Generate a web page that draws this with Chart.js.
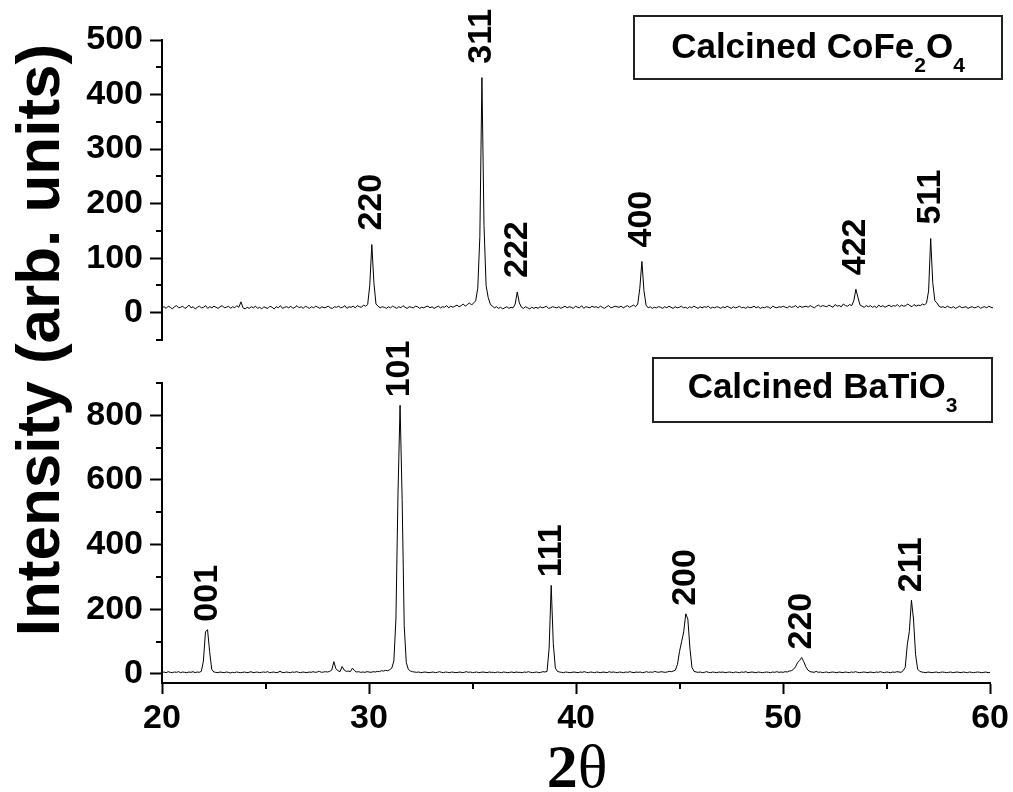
<!DOCTYPE html>
<html>
<head>
<meta charset="utf-8">
<title>XRD - calcined CoFe2O4 and BaTiO3</title>
<script src="https://cdn.jsdelivr.net/npm/chart.js@4.4.0/dist/chart.umd.min.js"></script>
<style>
  body { margin: 0; background: #fff; }
  #wrap { position: relative; width: 1013px; height: 792px; overflow: hidden; font-family: "Liberation Sans", Arial, sans-serif; color: #000; }
  canvas { position: absolute; left: 0; }
  #cfo { top: 0; }
  #bto { top: 320px; }
  .tag { position: absolute; box-sizing: border-box; border: 2px solid #222; font-size: 35px; font-weight: bold; text-align: center; line-height: 50px; white-space: nowrap; }
  .tag .sb { font-size: 21px; line-height: 1; vertical-align: -14px; }
  #tagCfo { left: 633px; top: 15px; width: 370px; height: 65px; padding-top: 4px; }
  #tagBto { left: 652px; top: 357px; width: 341px; height: 66px; padding-top: 2px; }
  #ytitle { position: absolute; left: -312px; top: 309px; width: 700px; height: 62px; line-height: 62px; font-size: 62px; font-weight: bold; text-align: center; transform: rotate(-90deg); white-space: nowrap; }
  #xtitle { position: absolute; left: 277px; top: 735px; width: 600px; height: 62px; line-height: 62px; font-size: 62px; text-align: center; font-family: "Liberation Serif", "Times New Roman", serif; }
</style>
</head>
<body>
<div id="wrap">
  <canvas id="cfo" width="1013" height="380"></canvas>
  <canvas id="bto" width="1013" height="472"></canvas>
  <div class="tag" id="tagCfo">Calcined CoFe<span class="sb">2</span>O<span class="sb">4</span></div>
  <div class="tag" id="tagBto">Calcined BaTiO<span class="sb">3</span></div>
  <div id="ytitle">Intensity (arb. units)</div>
  <div id="xtitle"><b>2</b>θ</div>
</div>
<script>
// scan: 20 - 60 deg, 0.1 deg step
const scanStart = 20;
const scanStep = 0.1;

// CoFe2O4 counts, one row per degree
const cfoCounts = [
  9,11,8,12,10,7,11,13,9,10,
  12,8,10,14,9,11,7,10,12,9,
  10,13,8,11,9,12,10,8,11,13,
  9,10,12,8,11,9,13,10,20,9,
  7,10,8,11,9,12,8,10,7,11,
  9,8,12,10,7,11,9,13,8,10,
  11,9,12,8,10,13,9,11,8,12,
  10,8,11,9,12,10,8,11,9,10,
  12,9,8,11,10,12,9,10,13,8,
  11,10,12,9,13,11,10,14,12,15,
  50,125,55,16,12,9,11,10,8,11,
  9,12,10,8,11,9,13,10,8,11,
  10,9,12,11,8,10,9,11,12,9,
  11,8,10,12,9,11,10,13,9,12,
  10,12,14,11,13,16,12,15,18,14,
  18,22,45,140,431,160,50,28,16,12,
  9,11,8,10,7,9,11,8,10,9,
  16,38,18,10,8,11,9,7,10,8,
  10,8,11,9,10,12,8,9,11,10,
  9,11,8,10,12,9,11,10,8,12,
  10,9,13,8,11,10,9,12,10,11,
  9,12,10,8,11,13,9,10,12,11,
  10,12,9,11,13,10,12,14,11,16,
  45,94,40,14,9,11,8,10,9,11,
  10,8,11,9,12,10,8,11,9,10,
  12,9,10,8,11,9,12,10,8,11,
  9,11,10,12,8,10,9,11,10,8,
  11,9,12,10,8,11,9,10,12,9,
  10,8,11,9,10,12,9,11,8,10,
  9,11,10,8,12,10,9,11,10,12,
  10,9,12,10,11,13,9,12,10,11,
  12,10,13,11,9,12,14,11,13,12,
  11,14,12,10,15,12,13,11,16,13,
  12,15,13,22,43,28,14,12,10,13,
  11,13,10,12,9,14,11,13,10,12,
  14,11,13,12,15,11,14,12,13,16,
  13,11,15,12,14,13,16,14,18,40,
  136,55,22,18,12,10,11,9,12,10,
  9,11,8,10,12,9,10,11,8,10,
  11,9,10,12,8,10,11,9,12,10,
  9
];

// BaTiO3 counts, same scan
const btoCounts = [
  5,6,4,7,5,4,6,5,7,4,
  6,5,4,6,5,7,4,6,5,8,
  40,130,137,70,15,6,5,4,6,5,
  4,6,5,3,5,4,6,5,4,5,
  6,4,5,7,4,5,6,4,5,6,
  5,7,4,5,6,4,5,8,5,4,
  6,5,4,6,5,7,5,4,6,5,
  4,6,5,7,5,6,8,5,6,7,
  6,8,12,38,16,10,7,23,12,8,
  9,7,18,10,6,7,5,6,5,7,
  6,5,7,6,8,7,10,9,11,10,
  13,18,40,170,560,831,540,150,35,14,
  9,7,6,5,6,4,5,6,5,4,
  5,6,4,5,7,5,4,6,5,4,
  6,5,4,5,6,4,5,7,5,6,
  4,5,6,4,5,6,5,4,6,5,
  5,4,6,5,4,6,5,4,5,6,
  4,6,5,5,4,6,5,7,5,4,
  5,6,4,5,7,6,8,80,274,95,
  18,8,6,5,4,6,5,4,5,6,
  5,4,6,5,7,5,4,6,5,4,
  6,5,4,6,5,4,7,5,6,5,
  4,6,5,4,6,5,7,5,4,6,
  5,6,4,5,7,5,6,5,8,6,
  5,7,6,5,6,8,7,9,12,30,
  70,100,130,186,170,80,20,8,6,5,
  6,4,5,7,5,4,6,5,4,6,
  5,6,4,5,6,5,4,6,5,4,
  6,5,7,4,5,6,5,4,6,5,
  4,5,6,5,4,6,5,7,5,6,
  5,7,6,9,10,14,22,35,42,51,
  38,22,12,7,6,5,8,5,6,4,
  5,6,4,5,6,5,4,6,5,4,
  6,5,4,6,5,7,5,4,5,6,
  5,4,6,5,4,6,5,7,5,4,
  6,5,4,6,5,7,6,5,10,20,
  90,132,228,170,60,15,8,6,5,4,
  6,5,4,5,6,4,5,6,5,4,
  5,6,4,5,6,5,4,6,5,4,
  6,5,4,5,6,5,4,5,6,4,
  5
];

// reflections
const cfoHkl = ['220', '311', '222', '400', '422', '511'];
const cfoPeakAt = [30.1, 35.4, 37.1, 43.1, 53.4, 57.0];
const btoHkl = ['001', '101', '111', '200', '220', '211'];
const btoPeakAt = [22.2, 31.5, 38.8, 45.3, 50.9, 56.2];

// axis ticks
const xTicks = [20, 30, 40, 50, 60];
const xMinor = [25, 35, 45, 55];
const cfoTicks = [0, 100, 200, 300, 400, 500];
const cfoMinor = [-50, 50, 150, 250, 350, 450];
const btoTicks = [0, 200, 400, 600, 800];
const btoMinor = [100, 300, 500, 700, 900];

const twoTheta = cfoCounts.map((_, i) => +(scanStart + i * scanStep).toFixed(1));

const FONT = '"Liberation Sans", Arial, sans-serif';
Chart.defaults.font.family = FONT;
Chart.defaults.color = '#000';

// short unlabelled ticks between the major ones
const minorTicks = {
  id: 'minorTicks',
  afterDraw(chart, args, opts) {
    const ctx = chart.ctx;
    ctx.save();
    ctx.strokeStyle = '#000';
    ctx.lineWidth = 2;
    const y = chart.scales.y;
    (opts.y || []).forEach(v => {
      const py = Math.round(y.getPixelForValue(v));
      ctx.beginPath();
      ctx.moveTo(y.right, py);
      ctx.lineTo(y.right - 6, py);
      ctx.stroke();
    });
    const x = chart.scales.x;
    (opts.x || []).forEach(v => {
      const px = Math.round(x.getPixelForValue(v));
      ctx.beginPath();
      ctx.moveTo(px, x.top);
      ctx.lineTo(px, x.top + 6);
      ctx.stroke();
    });
    ctx.restore();
  }
};

// hkl index written upright above each reflection
const peakLabels = {
  id: 'peakLabels',
  afterDatasetsDraw(chart, args, opts) {
    const {ctx, scales: {x, y}} = chart;
    const counts = opts.counts;
    ctx.save();
    ctx.fillStyle = '#000';
    ctx.font = 'bold 34px ' + FONT;
    ctx.textAlign = 'left';
    ctx.textBaseline = 'middle';
    opts.hkl.forEach((h, i) => {
      const idx = Math.round((opts.at[i] - scanStart) / scanStep);
      const top = Math.max(counts[idx - 1], counts[idx], counts[idx + 1]);
      const px = x.getPixelForValue(opts.at[i]);
      const py = y.getPixelForValue(top) - opts.gap;
      ctx.save();
      ctx.translate(px, py);
      ctx.rotate(-Math.PI / 2);
      ctx.fillText(h, 0, 0);
      ctx.restore();
    });
    ctx.restore();
  }
};

function yAxis(min, max, ticks) {
  return {
    min: min,
    max: max,
    afterBuildTicks: s => { s.ticks = ticks.map(v => ({value: v})); },
    afterFit: s => { s.width = 162; },
    border: {color: '#000', width: 2},
    grid: {drawOnChartArea: false, tickLength: 12, tickWidth: 2, tickColor: '#000'},
    ticks: {color: '#000', padding: 7, autoSkip: false, font: {size: 34, weight: 'bold'}}
  };
}

function pattern(counts) {
  return [{
    data: twoTheta.map((t, i) => ({x: t, y: counts[i]})),
    borderColor: '#000',
    borderWidth: 1,
    pointRadius: 0,
    tension: 0,
    fill: false
  }];
}

new Chart(document.getElementById('cfo'), {
  type: 'line',
  data: {datasets: pattern(cfoCounts)},
  options: {
    responsive: false,
    animation: false,
    devicePixelRatio: 1,
    events: [],
    layout: {padding: {top: 40, right: 20, bottom: 40, left: 0}},
    plugins: {
      legend: {display: false},
      tooltip: {enabled: false},
      minorTicks: {y: cfoMinor},
      peakLabels: {hkl: cfoHkl, at: cfoPeakAt, counts: cfoCounts, gap: 14}
    },
    scales: {
      x: {type: 'linear', min: 20, max: 60, display: false},
      y: yAxis(-50, 500, cfoTicks)
    }
  },
  plugins: [minorTicks, peakLabels]
});

new Chart(document.getElementById('bto'), {
  type: 'line',
  data: {datasets: pattern(btoCounts)},
  options: {
    responsive: false,
    animation: false,
    devicePixelRatio: 1,
    events: [],
    layout: {padding: {top: 63, right: 20, bottom: 49, left: 0}},
    plugins: {
      legend: {display: false},
      tooltip: {enabled: false},
      minorTicks: {y: btoMinor, x: xMinor},
      peakLabels: {hkl: btoHkl, at: btoPeakAt, counts: btoCounts, gap: 8}
    },
    scales: {
      x: {
        type: 'linear',
        min: 20,
        max: 60,
        afterBuildTicks: s => { s.ticks = xTicks.map(v => ({value: v})); },
        afterFit: s => { s.height = 60; },
        border: {color: '#000', width: 2},
        grid: {drawOnChartArea: false, tickLength: 11, tickWidth: 2, tickColor: '#000'},
        ticks: {color: '#000', padding: 4, autoSkip: false, maxRotation: 0, font: {size: 34, weight: 'bold'}}
      },
      y: yAxis(-28, 900, btoTicks)
    }
  },
  plugins: [minorTicks, peakLabels]
});
</script>
</body>
</html>
